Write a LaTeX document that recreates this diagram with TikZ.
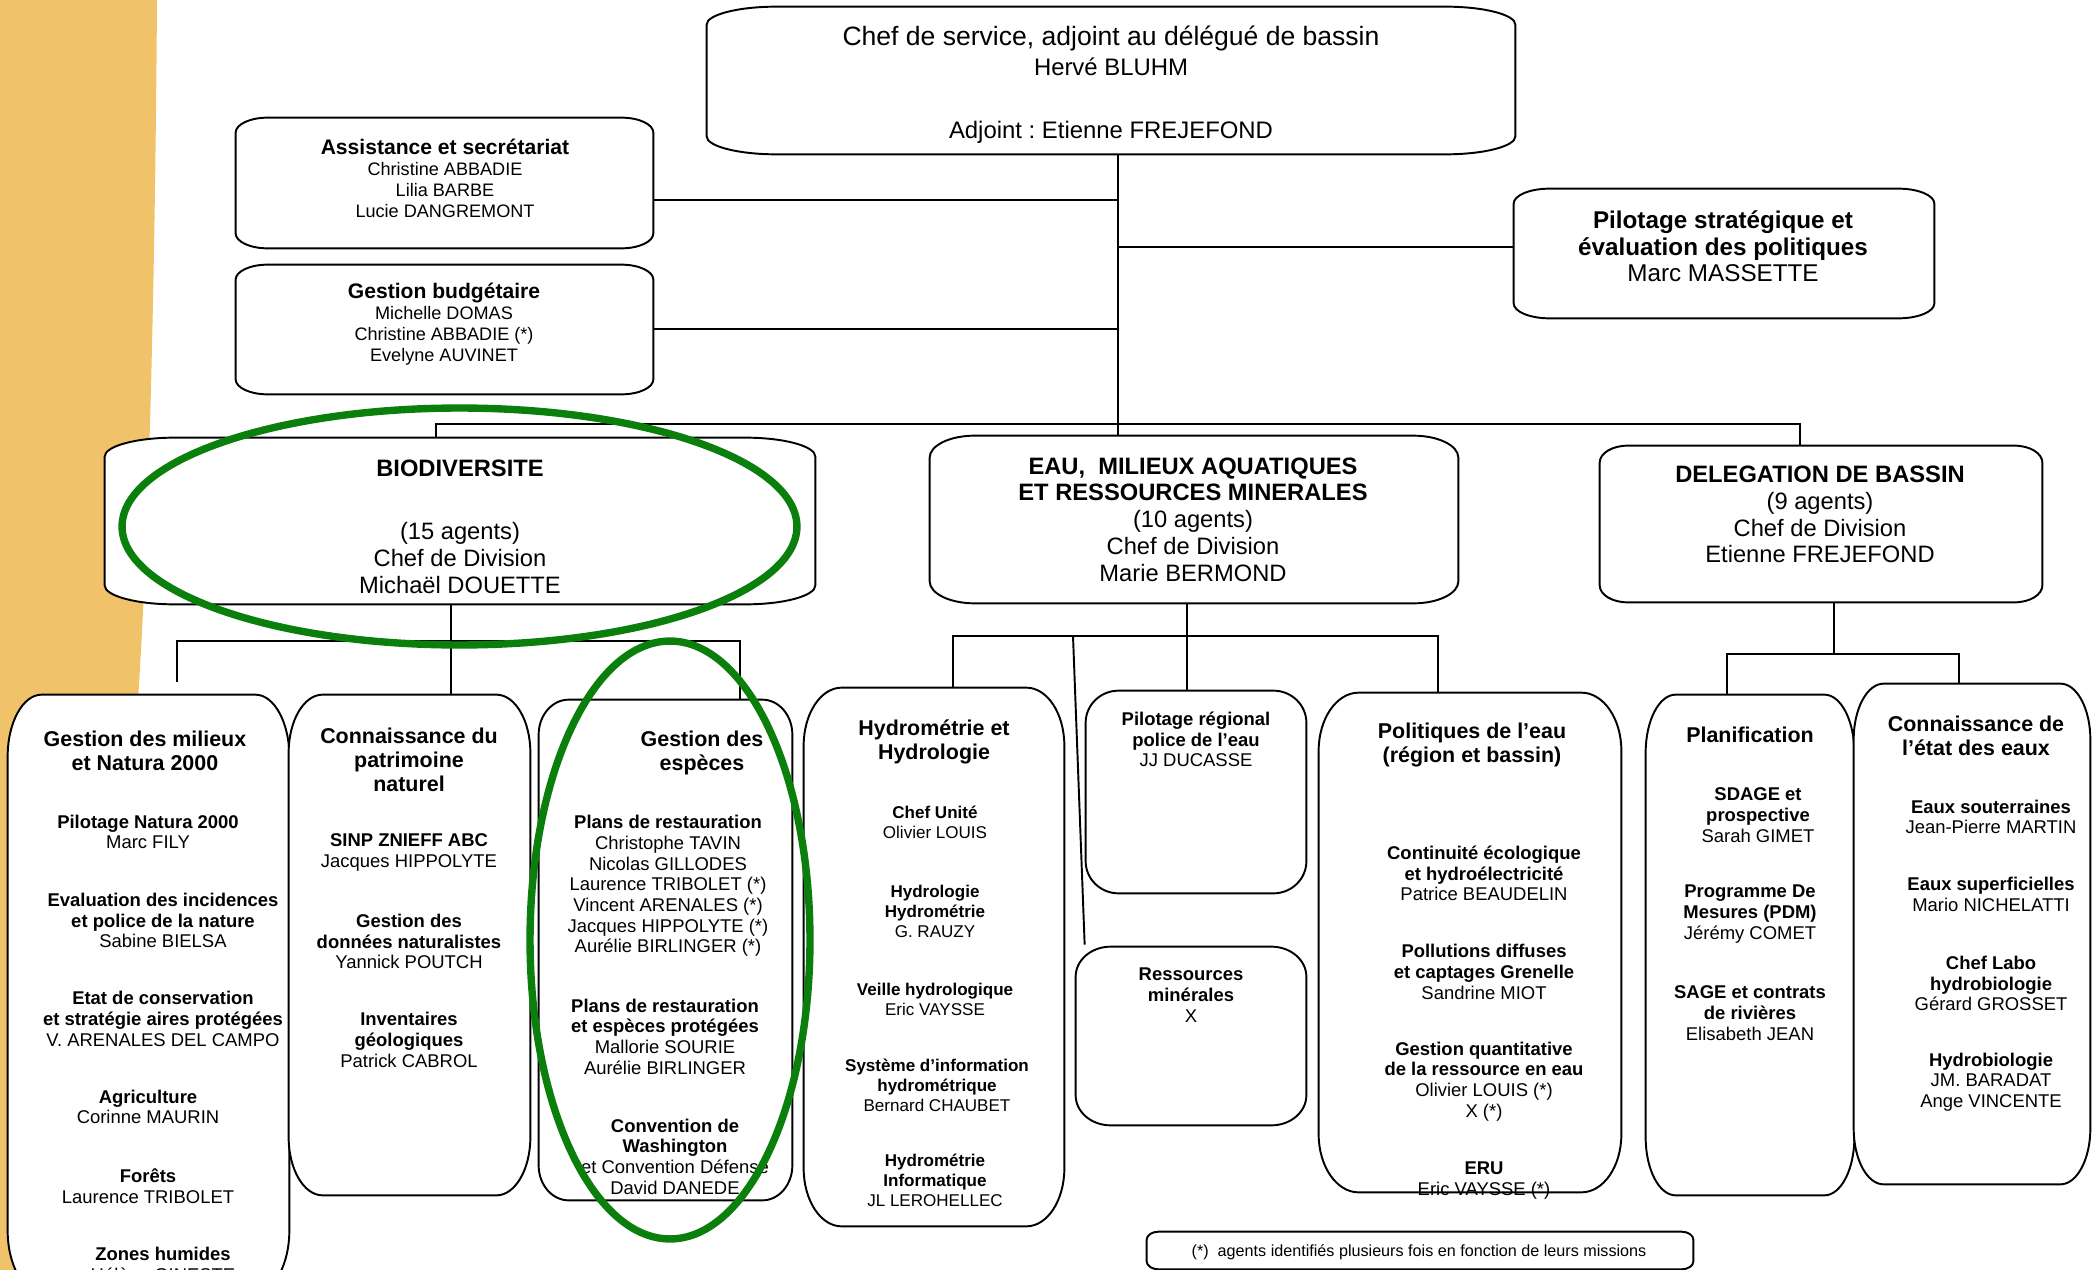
\documentclass[tikz,border=0pt]{standalone}
\usepackage{fontspec}
\setmainfont{Liberation Sans}
\usetikzlibrary{fit,calc}
\frenchspacing

\definecolor{sand}{HTML}{F0C36A}
\definecolor{ringgreen}{HTML}{0B7F0B}

% outline with elliptic corners around an (empty) fitted node
\newcommand\cornerbox[3]{%
  \draw[boxline] ([xshift=#2]#1.north west) -- ([xshift=-#2]#1.north east)
    arc[start angle=90,end angle=0,x radius=#2,y radius=#3]
    -- ([yshift=#3]#1.south east)
    arc[start angle=0,end angle=-90,x radius=#2,y radius=#3]
    -- ([xshift=#2]#1.south west)
    arc[start angle=270,end angle=180,x radius=#2,y radius=#3]
    -- ([yshift=-#3]#1.north west)
    arc[start angle=180,end angle=90,x radius=#2,y radius=#3] -- cycle;}

\begin{document}
\begin{tikzpicture}[x=0.02cm,y=-0.02cm,
    hull/.style={inner sep=0pt, draw=none},
    boxline/.style={line width=1.1pt, fill=white},
    link/.style={line width=1.1pt},
    headtxt/.style={inner sep=0pt, align=center, font=\fontsize{15.1}{17}\selectfont},
    divtxt/.style={inner sep=0pt, align=center, font=\fontsize{13.5}{15.2}\selectfont},
    subhead/.style={inner sep=0pt, align=center, font=\fontsize{12.2}{13.7}\selectfont\bfseries},
    mission/.style={inner sep=0pt, align=center, font=\fontsize{10.5}{11.8}\selectfont},
    hydromission/.style={inner sep=0pt, align=center, font=\fontsize{9.7}{11.4}\selectfont},
    ring/.style={draw=ringgreen, line width=4.2pt}
  ]
  \useasboundingbox (0,0) rectangle (2092,1270);
  \clip (0,0) rectangle (2092,1270);

  % background band
  \fill[sand] (0,0) -- (157,0) .. controls (155,300) and (148,550) .. (138,700)
    -- (100,1270) -- (0,1270) -- cycle;

  % frames
  \node[hull, fit={(707,7) (1515,154)}] (chef) {};
  \node[hull, fit={(236,118) (653,248)}] (assist) {};
  \node[hull, fit={(236,265) (653,394)}] (budget) {};
  \node[hull, fit={(1514,189) (1934,318)}] (pilot) {};
  \node[hull, fit={(105,438) (815,604)}] (bio) {};
  \node[hull, fit={(930,436) (1458,603)}] (eau) {};
  \node[hull, fit={(1600,446) (2042,602)}] (del) {};
  \node[hull, fit={(8,695) (289,1292)}] (milieux) {};
  \node[hull, fit={(289,695) (530,1195)}] (patrim) {};
  \node[hull, fit={(539,700) (792,1200)}] (especes) {};
  \node[hull, fit={(804,688) (1064,1226)}] (hydro) {};
  \node[hull, fit={(1086,691) (1306,893)}] (pilreg) {};
  \node[hull, fit={(1076,947) (1306,1125)}] (ressmin) {};
  \node[hull, fit={(1319,693) (1621,1192)}] (politiq) {};
  \node[hull, fit={(1646,695) (1854,1195)}] (planif) {};
  \node[hull, fit={(1854,684) (2090,1184)}] (etat) {};
  \node[hull, fit={(1147,1232) (1693,1269)}] (note) {};

  \cornerbox{chef}{1.4cm}{0.36cm}
  \cornerbox{assist}{0.64cm}{0.3cm}
  \cornerbox{budget}{0.64cm}{0.3cm}
  \cornerbox{pilot}{0.72cm}{0.3cm}
  \cornerbox{bio}{1.4cm}{0.38cm}
  \cornerbox{eau}{0.9cm}{0.44cm}
  \cornerbox{del}{0.56cm}{0.34cm}
  \cornerbox{milieux}{0.68cm}{1.24cm}
  \cornerbox{patrim}{0.68cm}{1.16cm}
  \cornerbox{especes}{0.6cm}{0.7cm}
  \cornerbox{hydro}{0.76cm}{1.16cm}
  \cornerbox{pilreg}{0.66cm}{0.64cm}
  \cornerbox{ressmin}{0.7cm}{0.6cm}
  \cornerbox{politiq}{0.8cm}{1.16cm}
  \cornerbox{planif}{0.6cm}{1.16cm}
  \cornerbox{etat}{0.6cm}{1.12cm}
  \cornerbox{note}{0.24cm}{0.16cm}

  % connectors
  \coordinate (trunk) at (1118,424);
  \coordinate (busW) at (436,424);
  \coordinate (busE) at (1800,424);
  \coordinate (jA) at (1118,200);
  \coordinate (jB) at (1118,329);
  \coordinate (jP) at (1118,247);
  \draw[link] (chef.south -| trunk) -- (trunk |- eau.north);
  \draw[link] (busW |- bio.north) -- (busW) -- (busE) -- (busE |- del.north);
  \draw[link] (jA) -- (jA -| assist.east);
  \draw[link] (jB) -- (jB -| budget.east);
  \draw[link] (jP) -- (jP -| pilot.west);

  \coordinate (bioW) at (177,641);
  \coordinate (bioM) at (451,641);
  \coordinate (bioE) at (740,641);
  \draw[link] (bioM |- bio.south) -- (bioM |- patrim.north);
  \draw[link] ($(bioW |- milieux.north)+(0,-13)$) -- (bioW) -- (bioE) -- (bioE |- especes.north);

  \coordinate (eauW) at (953,636);
  \coordinate (eauS) at (1073,636);
  \coordinate (eauM) at (1187,636);
  \coordinate (eauE) at (1438,636);
  \draw[link] (eauM |- eau.south) -- (eauM |- pilreg.north);
  \draw[link] (eauW |- hydro.north) -- (eauW) -- (eauE) -- (eauE |- politiq.north);
  \draw[link] (eauS) -- ($(ressmin.north west)+(9,-2)$);

  \coordinate (delW) at (1727,654);
  \coordinate (delM) at (1834,654);
  \coordinate (delE) at (1959,654);
  \draw[link] (delM |- del.south) -- (delM);
  \draw[link] (delW |- planif.north) -- (delW) -- (delE) -- (delE |- etat.north);

  % top level
  \node[headtxt] (chefT) at (1111,84.5) {Chef de service, adjoint au délégué de bassin\\{\fontsize{13.6}{17}\selectfont Hervé BLUHM}\\[18.9pt]{\fontsize{13.6}{17}\selectfont Adjoint : Etienne FREJEFOND}};
  \node[inner sep=0pt, align=center, font=\fontsize{10.3}{12}\selectfont] (assistT) at (445,178)
    {{\fontsize{12}{12}\selectfont\bfseries Assistance et secrétariat}\\Christine ABBADIE\\Lilia BARBE\\Lucie DANGREMONT};
  \node[inner sep=0pt, align=center, font=\fontsize{10.3}{12}\selectfont] (budgetT) at (444,324)
    {{\fontsize{12}{12}\selectfont\bfseries Gestion budgétaire}\\Michelle DOMAS\\Christine ABBADIE (*)\\Evelyne AUVINET};
  \node[inner sep=0pt, align=center, font=\fontsize{13.8}{15}\selectfont] (pilotT) at (1723,246.5)
    {\textbf{Pilotage stratégique et}\\\textbf{évaluation des politiques}\\Marc MASSETTE};

  % divisions
  \node[divtxt] (bioT) at (460,526.5) {\textbf{BIODIVERSITE}\\[21pt](15 agents)\\Chef de Division\\Michaël DOUETTE};
  \node[divtxt] (eauT) at (1193,519.5) {\textbf{EAU,~ MILIEUX AQUATIQUES}\\\textbf{ET RESSOURCES MINERALES}\\(10 agents)\\Chef de Division\\Marie BERMOND};
  \node[divtxt] (delT) at (1820,514.5) {\textbf{DELEGATION DE BASSIN}\\(9 agents)\\Chef de Division\\Etienne FREJEFOND};

  % biodiversite
  \node[subhead] (milieuxH) at (145,751) {Gestion des milieux\\et Natura 2000};
  \node[mission] (m1) at (148,832) {\textbf{Pilotage Natura 2000}\\Marc FILY};
  \node[mission] (m2) at (163,920.5) {\textbf{Evaluation des incidences}\\\textbf{et police de la nature}\\Sabine BIELSA};
  \node[mission] (m3) at (163,1019) {\textbf{Etat de conservation}\\\textbf{et stratégie aires protégées}\\V. ARENALES DEL CAMPO};
  \node[mission] (m4) at (148,1107) {\textbf{Agriculture}\\Corinne MAURIN};
  \node[mission] (m5) at (148,1186) {\textbf{Forêts}\\Laurence TRIBOLET};
  \node[mission] (m6) at (163,1264.5) {\textbf{Zones humides}\\Hélène GINESTE};

  \node[subhead] (patrimH) at (409,760) {Connaissance du\\patrimoine\\naturel};
  \node[mission] (p1) at (409,852.5) {\textbf{SINP ZNIEFF ABC}\\Jacques HIPPOLYTE};
  \node[mission] (p2) at (409,941.5) {\textbf{Gestion des}\\\textbf{données naturalistes}\\Yannick POUTCH};
  \node[mission] (p3) at (409,1040) {\textbf{Inventaires}\\\textbf{géologiques}\\Patrick CABROL};

  \node[subhead] (especesH) at (702,753) {Gestion des\\espèces};
  \node[mission] (e1) at (668,886) {\textbf{Plans de restauration}\\Christophe TAVIN\\Nicolas GILLODES\\Laurence TRIBOLET (*)\\Vincent ARENALES (*)\\Jacques HIPPOLYTE (*)\\Aurélie BIRLINGER (*)};
  \node[mission] (e2) at (665,1036.5) {\textbf{Plans de restauration}\\\textbf{et espèces protégées}\\Mallorie SOURIE\\Aurélie BIRLINGER};
  \node[mission] (e3) at (675,1156.5) {\textbf{Convention de}\\\textbf{Washington}\\et Convention Défense\\David DANEDE};

  % eau
  \node[subhead] (hydroH) at (934,742) {Hydrométrie et\\Hydrologie};
  \node[hydromission] (h1) at (935,822.5) {\textbf{Chef Unité}\\Olivier LOUIS};
  \node[hydromission] (h2) at (935,911) {\textbf{Hydrologie}\\\textbf{Hydrométrie}\\G. RAUZY};
  \node[hydromission] (h3) at (935,999) {\textbf{Veille hydrologique}\\Eric VAYSSE};
  \node[hydromission] (h4) at (937,1085) {\textbf{Système d’information}\\\textbf{hydrométrique}\\Bernard CHAUBET};
  \node[hydromission] (h5) at (935,1180.5) {\textbf{Hydrométrie}\\\textbf{Informatique}\\JL LEROHELLEC};

  \node[mission] (pilregT) at (1196,739.5) {\textbf{Pilotage régional}\\\textbf{police de l’eau}\\JJ DUCASSE};
  \node[mission] (ressT) at (1191,995) {\textbf{Ressources}\\\textbf{minérales}\\X};

  \node[subhead] (politiqH) at (1472,745) {Politiques de l’eau\\(région et bassin)};
  \node[mission] (q1) at (1484,873.5) {\textbf{Continuité écologique}\\\textbf{et hydroélectricité}\\Patrice BEAUDELIN};
  \node[mission] (q2) at (1484,972) {\textbf{Pollutions diffuses}\\\textbf{et captages Grenelle}\\Sandrine MIOT};
  \node[mission] (q3) at (1484,1081.5) {\textbf{Gestion quantitative}\\\textbf{de la ressource en eau}\\Olivier LOUIS (*)\\X (*)};
  \node[mission] (q4) at (1484,1180.5) {\textbf{ERU}\\Eric VAYSSE (*)};

  % delegation
  \node[subhead] (planifH) at (1750,735) {Planification};
  \node[mission] (d1) at (1758,815) {\textbf{SDAGE et}\\\textbf{prospective}\\Sarah GIMET};
  \node[mission] (d2) at (1750,914) {\textbf{Programme De}\\\textbf{Mesures (PDM)}\\Jérémy COMET};
  \node[mission] (d3) at (1750,1013) {\textbf{SAGE et contrats}\\\textbf{de rivières}\\Elisabeth JEAN};

  \node[subhead] (etatH) at (1976,735.5) {Connaissance de\\l’état des eaux};
  \node[mission] (s1) at (1991,817) {\textbf{Eaux souterraines}\\Jean-Pierre MARTIN};
  \node[mission] (s2) at (1991,894.5) {\textbf{Eaux superficielles}\\Mario NICHELATTI};
  \node[mission] (s3) at (1991,983.5) {\textbf{Chef Labo}\\\textbf{hydrobiologie}\\Gérard GROSSET};
  \node[mission] (s4) at (1991,1082) {\textbf{Hydrobiologie}\\JM. BARADAT\\Ange VINCENTE};

  \node[inner sep=0pt, font=\fontsize{9.2}{11}\selectfont] (noteT) at (1419,1252) {(*)~ agents identifiés plusieurs fois en fonction de leurs missions};

  % highlights
  \draw[ring] (459.5,526.5) ellipse [x radius=6.75cm, y radius=2.37cm];
  \draw[ring] (670,940) ellipse [x radius=2.8cm, y radius=5.98cm];
\end{tikzpicture}
\end{document}
